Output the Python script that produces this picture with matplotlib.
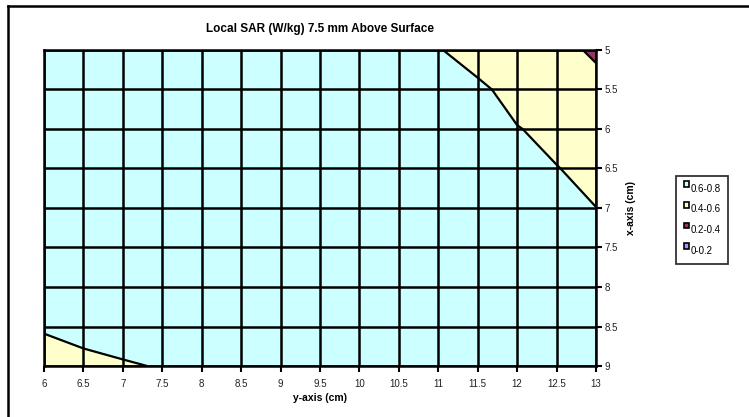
import numpy as np
import matplotlib.pyplot as plt
from matplotlib.lines import Line2D
from matplotlib.patches import Patch, Rectangle
from matplotlib.legend_handler import HandlerPatch

plt.rcParams['font.family'] = ['Liberation Sans', 'DejaVu Sans']

# measurement grid (cm)
y_cm = [6, 6.5, 7, 7.5, 8, 8.5, 9, 9.5, 10, 10.5, 11, 11.5, 12, 12.5, 13]
x_cm = [5, 5.5, 6, 6.5, 7, 7.5, 8, 8.5, 9]

# local SAR (W/kg), one row per x position, columns follow y_cm
sar = [
    [0.65, 0.65, 0.65, 0.65, 0.65, 0.65, 0.65, 0.65, 0.65, 0.65, 0.61, 0.527, 0.50, 0.45, 0.375],
    [0.65, 0.65, 0.65, 0.65, 0.65, 0.65, 0.65, 0.65, 0.65, 0.65, 0.65, 0.631, 0.545, 0.50, 0.451],
    [0.65, 0.65, 0.65, 0.65, 0.65, 0.65, 0.65, 0.65, 0.65, 0.65, 0.65, 0.65, 0.606, 0.563, 0.52],
    [0.65, 0.65, 0.65, 0.65, 0.65, 0.65, 0.65, 0.65, 0.65, 0.65, 0.65, 0.65, 0.65, 0.604, 0.564],
    [0.65, 0.65, 0.65, 0.65, 0.65, 0.65, 0.65, 0.65, 0.65, 0.65, 0.65, 0.65, 0.65, 0.65, 0.601],
    [0.65, 0.65, 0.65, 0.65, 0.65, 0.65, 0.65, 0.65, 0.65, 0.65, 0.65, 0.65, 0.65, 0.65, 0.65],
    [0.65, 0.65, 0.65, 0.65, 0.65, 0.65, 0.65, 0.65, 0.65, 0.65, 0.65, 0.65, 0.65, 0.65, 0.65],
    [0.62, 0.62, 0.62, 0.65, 0.65, 0.65, 0.65, 0.65, 0.65, 0.65, 0.65, 0.65, 0.65, 0.65, 0.65],
    [0.509, 0.584, 0.596, 0.6025, 0.65, 0.65, 0.65, 0.65, 0.65, 0.65, 0.65, 0.65, 0.65, 0.65, 0.65],
]

levels = [0, 0.2, 0.4, 0.6, 0.8]
band_labels = ['0-0.2', '0.2-0.4', '0.4-0.6', '0.6-0.8']
band_colors = ['#9999FF', '#993366', '#FFFFCC', '#CCFFFF']

fig = plt.figure(figsize=(7.49, 4.17), dpi=100)
ax = fig.add_axes([0.0587, 0.1223, 0.737, 0.7578])

Y, X = np.meshgrid(y_cm, x_cm)
Z = np.array(sar)
ax.contourf(Y, X, Z, levels=levels, colors=band_colors)
ax.contour(Y, X, Z, levels=[0.4, 0.6], colors='black', linewidths=1.6)

ax.set_xlim(6, 13)
ax.set_ylim(9, 5)
ax.set_xticks(y_cm)
ax.set_xticklabels([f'{v:g}' for v in y_cm])
ax.set_yticks(x_cm)
ax.set_yticklabels([f'{v:g}' for v in x_cm])
ax.yaxis.tick_right()
ax.yaxis.set_label_position('right')
ax.tick_params(axis='both', labelsize=7, width=1.5, length=4, direction='out',
               colors='black', labelcolor='#222222')
ax.tick_params(axis='x', pad=5)
ax.tick_params(axis='y', pad=2)
ax.grid(True, color='black', linewidth=1.8)
for s in ax.spines.values():
    s.set_linewidth(1.8)

ax.set_title('Local SAR (W/kg) 7.5 mm Above Surface', fontsize=8.5,
             fontweight='bold', pad=13)
ax.set_xlabel('y-axis (cm)', fontsize=7.5, fontweight='bold', labelpad=3)
ax.set_ylabel('x-axis (cm)', fontsize=7.5, fontweight='bold', rotation=90,
              labelpad=6)


# swatch drawn a bit above the label baseline
def raised_box(legend, orig_handle, xdescent, ydescent, width, height, fontsize):
    return Rectangle((-xdescent, -ydescent + 3), width, height)


handles = [Patch(facecolor=c, edgecolor='black', linewidth=1.2)
           for c in band_colors[::-1]]
leg = fig.legend(handles, band_labels[::-1], loc='upper left',
                 bbox_to_anchor=(676 / 749, 1 - 176 / 417), fontsize=7,
                 frameon=True, fancybox=False, edgecolor='black',
                 handlelength=0.55, handleheight=0.55, handletextpad=0.15,
                 labelspacing=1.1, borderpad=0.8, borderaxespad=0,
                 handler_map={Patch: HandlerPatch(patch_func=raised_box)})
leg.get_frame().set_linewidth(1.3)

# chart area border
fig.add_artist(Line2D([8 / 749, 8 / 749], [1 - 6 / 417, -0.1],
                      color='black', linewidth=1.8, transform=fig.transFigure))
fig.add_artist(Line2D([8 / 749, 1.1], [1 - 6 / 417, 1 - 6 / 417],
                      color='black', linewidth=1.8, transform=fig.transFigure))

fig.savefig('out.png', dpi=100)
